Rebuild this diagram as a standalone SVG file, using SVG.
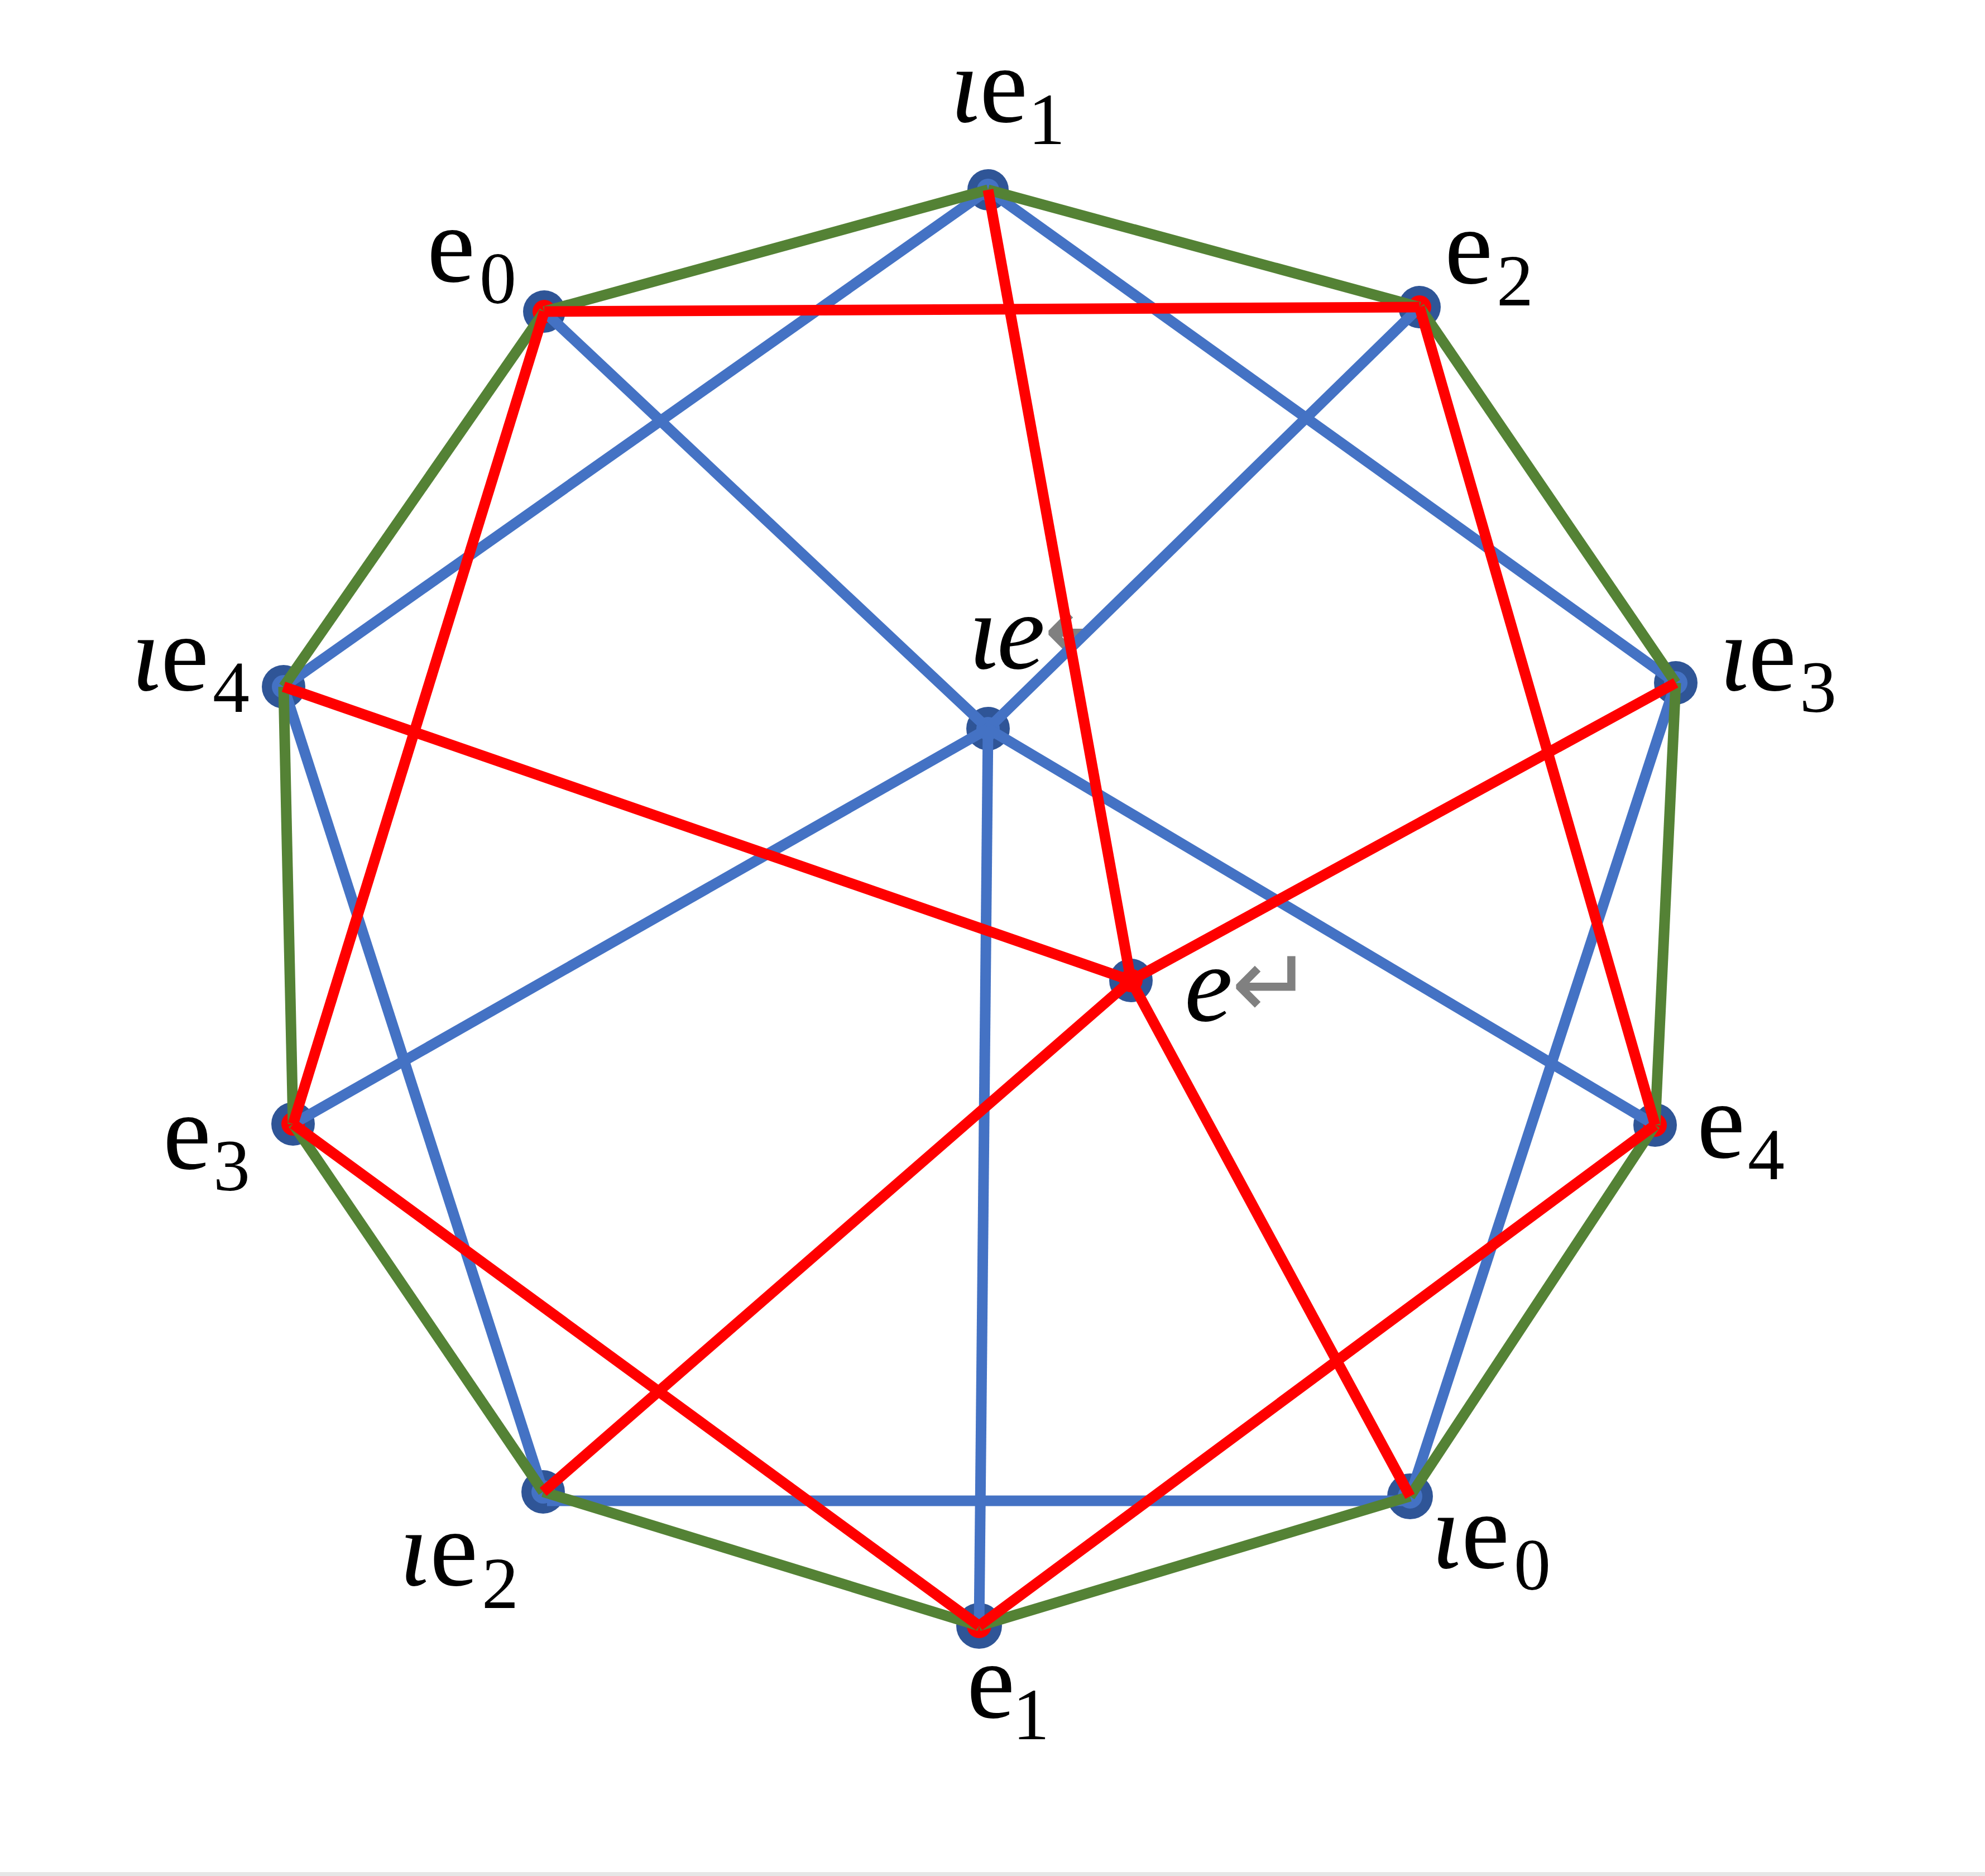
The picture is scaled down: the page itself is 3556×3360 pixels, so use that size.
<svg xmlns="http://www.w3.org/2000/svg" width="3556" height="3360" viewBox="0 0 3556 3360">
<style>
.g{stroke:#548235;stroke-width:19;fill:none}
.b{stroke:#4472C4;stroke-width:19;fill:none}
.r{stroke:#FF0000;stroke-width:19;fill:none}
.outer{fill:#2F5597}
.inB{fill:#4472C4}
.inR{fill:#FF0000}
.lbl{font-family:"Liberation Serif","DejaVu Serif",serif;font-size:194px;fill:#000}
.sub{font-size:132px}
.it{font-style:italic}
.ret{font-family:"DejaVu Sans",sans-serif;font-size:175px;fill:#808080}
</style>
<defs>
<clipPath id="clipLe"><rect x="1870" y="1060" width="74" height="140"/></clipPath>
</defs>
<rect x="0" y="0" width="3556" height="3360" fill="#ffffff"/>
<rect x="0" y="3353" width="3556" height="7" fill="#e6e6e6"/>

<g id="node-le1"><circle class="outer" cx="1770" cy="340" r="37"/><circle class="inB" cx="1770" cy="340" r="20"/>
<text class="lbl"><tspan class="it" x="1702" y="218">ι</tspan><tspan x="1755" y="218">e</tspan><tspan class="sub" x="1842" y="258">1</tspan></text></g>
<g id="node-e0"><circle class="outer" cx="975" cy="558" r="38"/><circle class="inR" cx="975" cy="558" r="21"/>
<text class="lbl"><tspan x="765" y="504">e</tspan><tspan class="sub" x="859" y="543">0</tspan></text></g>
<g id="node-e2"><circle class="outer" cx="2543" cy="550" r="38"/><circle class="inR" cx="2543" cy="550" r="21"/>
<text class="lbl"><tspan x="2588" y="507">e</tspan><tspan class="sub" x="2681" y="547">2</tspan></text></g>
<g id="node-le4"><circle class="outer" cx="508" cy="1230" r="39"/><circle class="inB" cx="508" cy="1230" r="21"/>
<text class="lbl"><tspan class="it" x="235" y="1236">ι</tspan><tspan x="288" y="1236">e</tspan><tspan class="sub" x="381" y="1275">4</tspan></text></g>
<g id="node-le3"><circle class="outer" cx="3002" cy="1223" r="39"/><circle class="inB" cx="3002" cy="1223" r="21"/>
<text class="lbl"><tspan class="it" x="3080" y="1236">ι</tspan><tspan x="3132" y="1236">e</tspan><tspan class="sub" x="3224" y="1275">3</tspan></text></g>
<g id="node-le"><circle class="outer" cx="1770" cy="1305" r="39"/><circle class="inB" cx="1770" cy="1305" r="21"/>
<text class="lbl it"><tspan x="1735" y="1197">ι</tspan><tspan x="1786" y="1197">e</tspan></text>
<text class="ret" x="1870" y="1188" clip-path="url(#clipLe)">↵</text></g>
<g id="node-e"><circle class="outer" cx="2026" cy="1756" r="39"/><circle class="inR" cx="2026" cy="1756" r="21"/>
<text class="lbl it" x="2122" y="1828">e</text>
<text class="ret" x="2206" y="1822">↵</text></g>
<g id="node-e3"><circle class="outer" cx="525" cy="2013" r="39"/><circle class="inR" cx="525" cy="2013" r="21"/>
<text class="lbl"><tspan x="292" y="2093">e</tspan><tspan class="sub" x="382" y="2132">3</tspan></text></g>
<g id="node-e4"><circle class="outer" cx="2965" cy="2015" r="39"/><circle class="inR" cx="2965" cy="2015" r="21"/>
<text class="lbl"><tspan x="3040" y="2073">e</tspan><tspan class="sub" x="3131" y="2112">4</tspan></text></g>
<g id="node-le2"><circle class="outer" cx="973" cy="2672" r="39"/><circle class="inB" cx="973" cy="2672" r="21"/>
<text class="lbl"><tspan class="it" x="715" y="2839">ι</tspan><tspan x="770" y="2839">e</tspan><tspan class="sub" x="863" y="2880">2</tspan></text></g>
<g id="node-le0"><circle class="outer" cx="2526" cy="2680" r="41"/><circle class="inB" cx="2526" cy="2680" r="22"/>
<text class="lbl"><tspan class="it" x="2564" y="2808">ι</tspan><tspan x="2618" y="2808">e</tspan><tspan class="sub" x="2712" y="2847">0</tspan></text></g>
<g id="node-e1"><circle class="outer" cx="1754" cy="2912" r="41"/><circle class="inR" cx="1754" cy="2912" r="22"/>
<text class="lbl"><tspan x="1732" y="3076">e</tspan><tspan class="sub" x="1814" y="3115">1</tspan></text></g>

<g id="connectors">
<g id="blue">
<line class="b" x1="1770" y1="340" x2="508" y2="1230"/>
<line class="b" x1="1770" y1="340" x2="3002" y2="1223"/>
<line class="b" x1="508" y1="1230" x2="973" y2="2672"/>
<line class="b" x1="3002" y1="1223" x2="2526" y2="2680"/>
<line class="b" x1="980" y1="2688" x2="2520" y2="2688"/>
<line class="b" x1="1770" y1="1305" x2="975" y2="558"/>
<line class="b" x1="1770" y1="1305" x2="2543" y2="550"/>
<line class="b" x1="1770" y1="1305" x2="525" y2="2013"/>
<line class="b" x1="1770" y1="1305" x2="2965" y2="2015"/>
<line class="b" x1="1770" y1="1305" x2="1754" y2="2912"/>
</g>
<g id="green">
<line class="g" x1="975" y1="558" x2="1770" y2="340"/>
<line class="g" x1="1770" y1="340" x2="2543" y2="550"/>
<line class="g" x1="2543" y1="550" x2="3002" y2="1223"/>
<line class="g" x1="3002" y1="1223" x2="2965" y2="2015"/>
<line class="g" x1="2965" y1="2015" x2="2526" y2="2680"/>
<line class="g" x1="2526" y1="2680" x2="1754" y2="2912"/>
<line class="g" x1="1754" y1="2912" x2="973" y2="2672"/>
<line class="g" x1="973" y1="2672" x2="525" y2="2013"/>
<line class="g" x1="525" y1="2013" x2="508" y2="1230"/>
<line class="g" x1="508" y1="1230" x2="975" y2="558"/>
</g>
<g id="red">
<line class="r" x1="975" y1="558" x2="2543" y2="550"/>
<line class="r" x1="975" y1="558" x2="525" y2="2013"/>
<line class="r" x1="2543" y1="550" x2="2965" y2="2015"/>
<line class="r" x1="525" y1="2013" x2="1754" y2="2912"/>
<line class="r" x1="2965" y1="2015" x2="1754" y2="2912"/>
<line class="r" x1="1770" y1="340" x2="2026" y2="1756"/>
<line class="r" x1="508" y1="1230" x2="2026" y2="1756"/>
<line class="r" x1="3002" y1="1223" x2="2026" y2="1756"/>
<line class="r" x1="2026" y1="1756" x2="973" y2="2672"/>
<line class="r" x1="2026" y1="1756" x2="2526" y2="2680"/>
</g>
</g>
</svg>
